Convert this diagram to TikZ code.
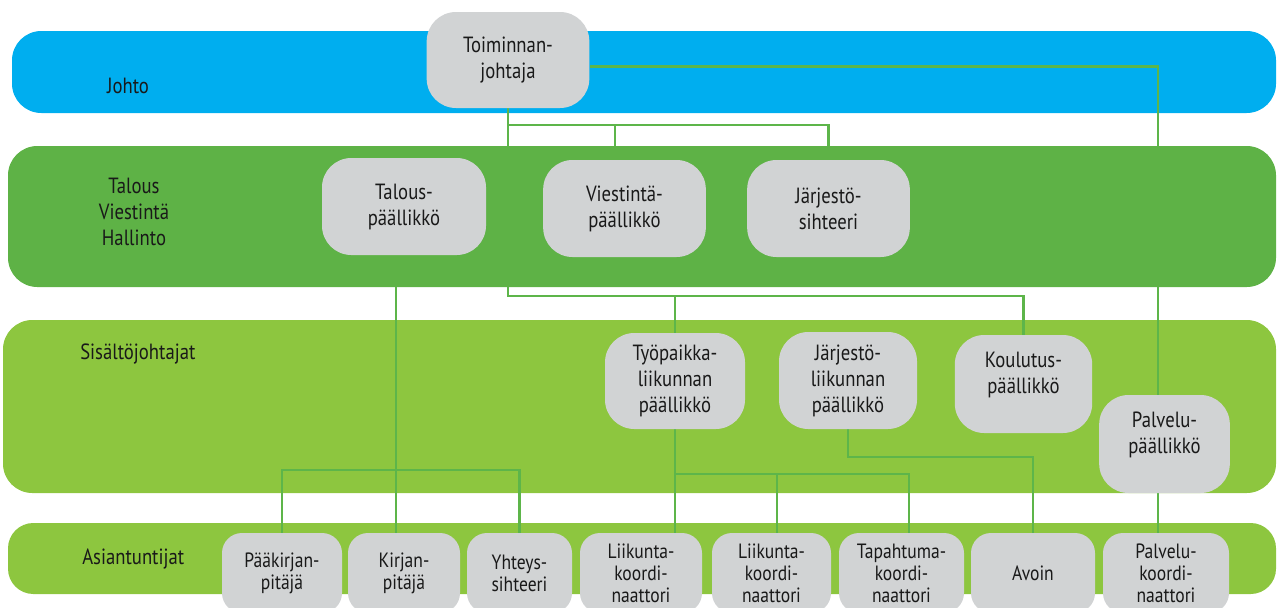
\documentclass[tikz,border=0pt]{standalone}
\usepackage{fontspec}
\setmainfont[FakeStretch=0.85]{PT Sans}
\usepackage{tikz}
\usetikzlibrary{backgrounds}

\definecolor{johtoblue}{HTML}{00AEEF}
\definecolor{talousgreen}{HTML}{5EB246}
\definecolor{lightgreen}{HTML}{8DC63F}
\definecolor{boxgray}{HTML}{D1D3D4}
\definecolor{linegreen}{HTML}{5DB54A}

\begin{document}
\begin{tikzpicture}[x=0.75pt, y=-0.75pt,
	role/.style={shape=rectangle, rounded corners=22pt, fill=boxgray, align=center, inner sep=0pt, text=black!90, font=\fontsize{16.5}{19.5}\selectfont},
	expert/.style={shape=rectangle, rounded corners=15pt, fill=boxgray, align=center, inner sep=0pt, minimum height=60pt, text=black!90, font=\fontsize{15.5}{16.5}\selectfont},
	band/.style={rounded corners=22pt},
	bandlabel/.style={align=center, inner sep=0pt, text=black!90, font=\fontsize{16.5}{19.5}\selectfont},
	link/.style={draw=linegreen, line width=1.8pt}]

	\useasboundingbox (0,0) rectangle (1277,607);

	% band labels
	\node[bandlabel] (johto) at (128, 86) {Johto};
	\node[bandlabel] (hallinto) at (134, 212) {Talous\\Viestintä\\Hallinto};
	\node[bandlabel, anchor=west] (sisalto) at (80, 354) {Sisältöjohtajat};
	\node[bandlabel, anchor=west] (asiant) at (82, 559) {Asiantuntijat};

	% johto, talous
	\node[role, minimum width=122pt, minimum height=72pt] (toim) at (508, 60) {Toiminnan-\\johtaja};
	\node[role, minimum width=123pt, minimum height=72.75pt] (talp) at (404, 206.5) {Talous-\\päällikkö};
	\node[role, minimum width=122pt, minimum height=72.75pt] (viest) at (624.5, 208.5) {Viestintä-\\päällikkö};
	\node[role, minimum width=122pt, minimum height=72.75pt] (jarjs) at (828.5, 208.5) {Järjestö-\\sihteeri};

	% sisaltojohtajat
	\node[role, minimum width=105pt, minimum height=72pt] (tyop) at (675, 381) {Työpaikka-\\liikunnan\\päällikkö};
	\node[role, minimum width=103.5pt, minimum height=72.75pt] (jarl) at (848, 380.5) {Järjestö-\\liikunnan\\päällikkö};
	\node[role, minimum width=103pt, minimum height=73.5pt, text depth=17pt] (koul) at (1023.5, 384) {Koulutus-\\päällikkö};
	\node[role, minimum width=98pt, minimum height=73.5pt, text depth=17pt] (palvp) at (1164.5, 444) {Palvelu-\\päällikkö};

	% asiantuntijat
	\node[expert, minimum width=90pt] (paak) at (282, 573) {Pääkirjan-\\pitäjä};
	\node[expert, minimum width=84pt] (kirj) at (404, 573) {Kirjan-\\pitäjä};
	\node[expert, minimum width=78.75pt] (yht) at (519.5, 573) {Yhteys-\\sihteeri};
	\node[expert, minimum width=91.5pt] (liik1) at (641, 573) {Liikunta-\\koordi-\\naattori};
	\node[expert, minimum width=89.25pt] (liik2) at (771.5, 573) {Liikunta-\\koordi-\\naattori};
	\node[expert, minimum width=93.75pt] (tapa) at (901.5, 573) {Tapahtuma-\\koordi-\\naattori};
	\node[expert, minimum width=93pt] (avoin) at (1033, 573) {Avoin};
	\node[expert, minimum width=94.5pt] (palvk) at (1166, 573) {Palvelu-\\koordi-\\naattori};

	\begin{pgfonlayer}{background}
		\fill[johtoblue, band] (12,31) rectangle (1276,113);
		\fill[lightgreen, band] (3,320) rectangle (1276,493);
		\fill[lightgreen, band, rounded corners=19pt] (8,523) rectangle (1276,594);

		\draw[link] (toim.south) -- ++(0,188) coordinate (split) -| (koul.north);
		\draw[link] (split) -| (tyop.north);
		\draw[link] (toim.south |- 0,125) -| (jarjs.north);
		\draw[link] (toim.south |- 0,125) -| ([xshift=-7pt]viest.north);
		\draw[link] ([yshift=-5pt]toim.east) -| ([xshift=-5pt]palvp.north);

		\draw[link] ([xshift=-6pt]talp.south) -- ([xshift=-6pt]talp.south |- kirj.north);
		\draw[link] (paak.north) |- ([xshift=-6pt]talp.south |- 0,470) -| (yht.north);

		\draw[link] (tyop.south) -- (tyop.south |- liik1.north);
		\draw[link] (tyop.south |- 0,474) -| ([xshift=4pt]liik2.north);
		\draw[link] (tyop.south |- 0,474) -| ([xshift=5.5pt]tapa.north);
		\draw[link] (jarl.south) -- ++(0,28) -| (avoin.north);
		\draw[link] ([xshift=-5pt]palvp.south) -- ([xshift=-5pt]palvp.south |- palvk.north);

		\fill[talousgreen, band] (8,146) rectangle (1276,287);
	\end{pgfonlayer}

\end{tikzpicture}
\end{document}
